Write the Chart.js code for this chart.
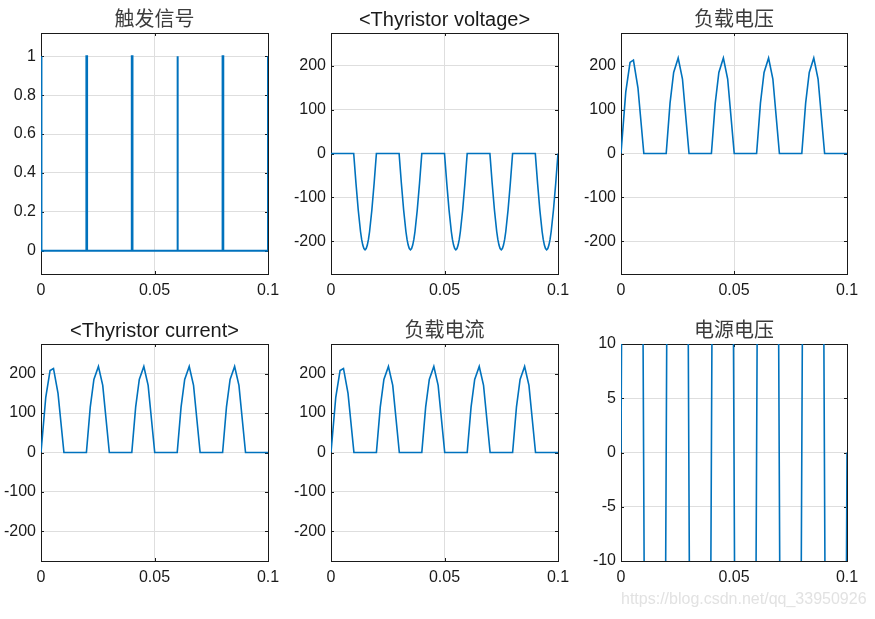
<!DOCTYPE html>
<html>
<head>
<meta charset="utf-8">
<script src="https://cdn.jsdelivr.net/npm/chart.js@4.4.0/dist/chart.umd.min.js"></script>
<style>
body { margin: 0; background: #fff; width: 875px; height: 619px; overflow: hidden; }
canvas { position: absolute; }
#mark { position: absolute; left: 621px; top: 590px; font: 16px "Liberation Sans", Arial, sans-serif; line-height: 18px; color: #e2e2e2; white-space: nowrap; }
</style>
</head>
<body>
<canvas id="g1"></canvas>
<canvas id="g2"></canvas>
<canvas id="g3"></canvas>
<canvas id="g4"></canvas>
<canvas id="g5"></canvas>
<canvas id="g6"></canvas>
<div id="mark">https://blog.csdn.net/qq_33950926</div>
<script>
// tick labels
const xTicks = [0, 0.05, 0.1];
const trigTicks = [0, 0.2, 0.4, 0.6, 0.8, 1];
const voltTicks = [-200, -100, 0, 100, 200];
const srcTicks = [-10, -5, 0, 5, 10];

// 触发信号
const trigT = [0, 0, 0.0003, 0.0003, 0.02, 0.02, 0.0203, 0.0203, 0.04, 0.04, 0.0403, 0.0403,
               0.06, 0.06, 0.0603, 0.0603, 0.08, 0.08, 0.0803, 0.0803, 0.1, 0.1];
const trigV = [0, 1, 1, 0, 0, 1, 1, 0, 0, 1, 1, 0, 0, 1, 1, 0, 0, 1, 1, 0, 0, 1];

// <Thyristor voltage>
const thyT = [0,
  0.01, 0.011, 0.012, 0.013, 0.0135, 0.014, 0.0145, 0.015, 0.0155, 0.016, 0.0165, 0.017, 0.018, 0.019, 0.02,
  0.03, 0.031, 0.032, 0.033, 0.0335, 0.034, 0.0345, 0.035, 0.0355, 0.036, 0.0365, 0.037, 0.038, 0.039, 0.04,
  0.05, 0.051, 0.052, 0.053, 0.0535, 0.054, 0.0545, 0.055, 0.0555, 0.056, 0.0565, 0.057, 0.058, 0.059, 0.06,
  0.07, 0.071, 0.072, 0.073, 0.0735, 0.074, 0.0745, 0.075, 0.0755, 0.076, 0.0765, 0.077, 0.078, 0.079, 0.08,
  0.09, 0.091, 0.092, 0.093, 0.0935, 0.094, 0.0945, 0.095, 0.0955, 0.096, 0.0965, 0.097, 0.098, 0.099, 0.1];
const thyV = [0,
  0, -68, -129, -178, -196, -209, -217, -220, -217, -209, -196, -178, -129, -68, 0,
  0, -68, -129, -178, -196, -209, -217, -220, -217, -209, -196, -178, -129, -68, 0,
  0, -68, -129, -178, -196, -209, -217, -220, -217, -209, -196, -178, -129, -68, 0,
  0, -68, -129, -178, -196, -209, -217, -220, -217, -209, -196, -178, -129, -68, 0,
  0, -68, -129, -178, -196, -209, -217, -220, -217, -209, -196, -178, -129, -68, 0];

// 负载电压
const loadT = [0, 0.0021, 0.004, 0.0055, 0.0075, 0.0101,
  0.02, 0.0217, 0.0233, 0.0253, 0.0272, 0.0301,
  0.04, 0.0417, 0.0433, 0.0453, 0.0472, 0.0501,
  0.06, 0.0617, 0.0633, 0.0653, 0.0672, 0.0701,
  0.08, 0.0817, 0.0833, 0.0853, 0.0872, 0.0901, 0.1];
const loadV = [0, 140, 208, 213, 150, 0,
  0, 115, 185, 218, 170, 0,
  0, 115, 185, 218, 170, 0,
  0, 115, 185, 218, 170, 0,
  0, 115, 185, 218, 170, 0, 0];

// <Thyristor current> / 负载电流
const curT = [0, 0.0021, 0.004, 0.0055, 0.0075, 0.0101,
  0.02, 0.0217, 0.0233, 0.0253, 0.0272, 0.0301,
  0.04, 0.0417, 0.0433, 0.0453, 0.0472, 0.0501,
  0.06, 0.0617, 0.0633, 0.0653, 0.0672, 0.0701,
  0.08, 0.0817, 0.0833, 0.0853, 0.0872, 0.0901, 0.1];
const curV = [0, 140, 208, 213, 150, 0,
  0, 115, 185, 218, 170, 0,
  0, 115, 185, 218, 170, 0,
  0, 115, 185, 218, 170, 0,
  0, 115, 185, 218, 170, 0, 0];

// 电源电压
const srcT = [0, 0.005, 0.01, 0.015, 0.02, 0.025, 0.03, 0.035, 0.04, 0.045, 0.05,
              0.055, 0.06, 0.065, 0.07, 0.075, 0.08, 0.085, 0.09, 0.095, 0.1];
const srcV = [0, 220, 0, -220, 0, 220, 0, -220, 0, 220, 0,
              -220, 0, 220, 0, -220, 0, 220, 0, -220, 0];

const blu = "#0072BD";
const fontNum = '"Liberation Sans", Arial, sans-serif';
const fontTit = '"Liberation Sans", "Noto Sans CJK SC", sans-serif';

// box + inward ticks, MATLAB style
const cornice = {
  id: "cornice",
  beforeDatasetsDraw(chart) {
    let a = chart.chartArea;
    let ctx = chart.ctx;
    ctx.save();
    ctx.strokeStyle = "#1a1a1a";
    ctx.lineWidth = 1;
    ctx.strokeRect(a.left + 0.5, a.top + 0.5, a.right - a.left, a.bottom - a.top);
    ctx.beginPath();
    for (let t of chart.scales.x.ticks) {
      let p = Math.round(chart.scales.x.getPixelForValue(t.value)) + 0.5;
      ctx.moveTo(p, a.bottom); ctx.lineTo(p, a.bottom - 3);
      ctx.moveTo(p, a.top); ctx.lineTo(p, a.top + 3);
    }
    for (let t of chart.scales.y.ticks) {
      let p = Math.round(chart.scales.y.getPixelForValue(t.value)) + 0.5;
      ctx.moveTo(a.left, p); ctx.lineTo(a.left + 3, p);
      ctx.moveTo(a.right, p); ctx.lineTo(a.right - 3, p);
    }
    ctx.stroke();
    ctx.restore();
  }
};

function pannello(id, L, T, R, B, titolo, xs, ys, yMin, yMax, yTicks, spessore) {
  let c = document.getElementById(id);
  c.width = R - L + 41 + 25;
  c.height = B - T + 33 + 30;
  c.style.left = (L - 41) + "px";
  c.style.top = (T - 33) + "px";
  let punti = xs.map((x, i) => ({x: x, y: ys[i]}));
  let cinese = /[\u4e00-\u9fff]/.test(titolo);

  new Chart(c, {
    type: "scatter",
    data: {
      datasets: [{
        data: punti,
        showLine: true,
        borderColor: blu,
        borderWidth: spessore,
        pointRadius: 0,
        pointHoverRadius: 0,
        tension: 0
      }]
    },
    options: {
      responsive: false,
      animation: false,
      devicePixelRatio: 1,
      events: [],
      layout: {padding: {left: 0, top: 0, right: 25, bottom: 0}},
      plugins: {
        legend: {display: false},
        tooltip: {enabled: false},
        title: {
          display: true,
          fullSize: false,
          text: titolo,
          color: cinese ? "#3c3c3c" : "#1a1a1a",
          font: {family: fontTit, size: 20, weight: "normal"},
          padding: {top: 8, bottom: 1}
        }
      },
      scales: {
        x: {
          type: "linear",
          min: 0,
          max: 0.1,
          afterBuildTicks: s => { s.ticks = xTicks.map(v => ({value: v})); },
          afterFit: s => { s.height = 30; },
          ticks: {
            callback: v => String(v),
            color: "#1a1a1a",
            font: {family: fontNum, size: 16},
            padding: 7,
            maxRotation: 0,
            autoSkip: false
          },
          grid: {color: "#dedede", drawTicks: false},
          border: {display: false}
        },
        y: {
          type: "linear",
          min: yMin,
          max: yMax,
          afterBuildTicks: s => { s.ticks = yTicks.map(v => ({value: v})); },
          afterFit: s => { s.width = 41; },
          ticks: {
            callback: v => String(v),
            color: "#1a1a1a",
            font: {family: fontNum, size: 16},
            padding: 5,
            autoSkip: false
          },
          grid: {color: "#dedede", drawTicks: false},
          border: {display: false}
        }
      }
    },
    plugins: [cornice]
  });
}

pannello("g1", 41, 33, 268, 274, "触发信号", trigT, trigV, -0.12, 1.12, trigTicks, 2);
pannello("g2", 331, 33, 558, 274, "<Thyristor voltage>", thyT, thyV, -275, 275, voltTicks, 1.6);
pannello("g3", 621, 33, 847, 274, "负载电压", loadT, loadV, -275, 275, voltTicks, 1.6);
pannello("g4", 41, 344, 268, 561, "<Thyristor current>", curT, curV, -275, 275, voltTicks, 1.6);
pannello("g5", 331, 344, 558, 561, "负载电流", curT, curV, -275, 275, voltTicks, 1.6);
pannello("g6", 621, 344, 847, 561, "电源电压", srcT, srcV, -10, 10, srcTicks, 1.6);
</script>
</body>
</html>
